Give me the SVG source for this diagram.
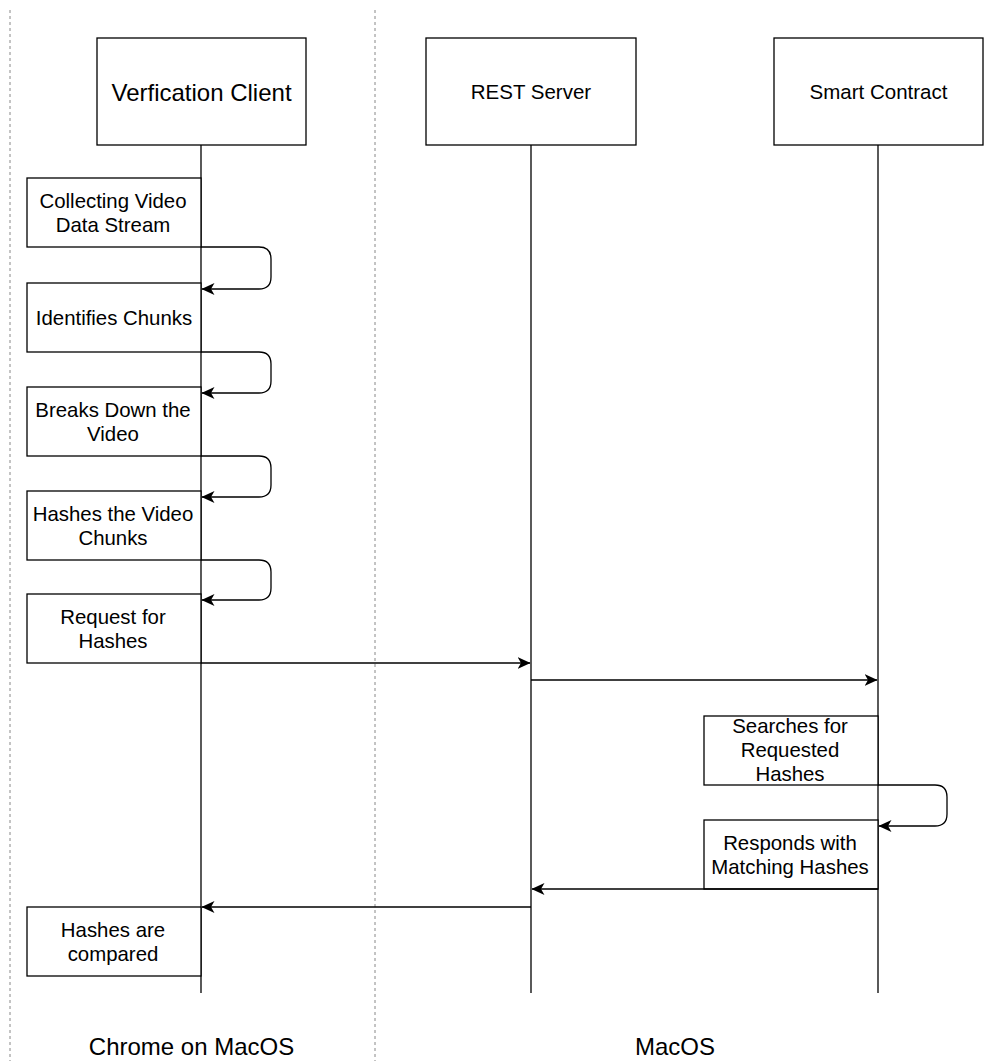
<svg xmlns="http://www.w3.org/2000/svg" width="998" height="1061" viewBox="0 0 998 1061">
  <style>
    .bg { fill: #ffffff; }
    .box { fill: #ffffff; stroke: #000000; stroke-width: 1.3; }
    .life { stroke: #000000; stroke-width: 1.3; fill: none; }
    .msg { stroke: #000000; stroke-width: 1.3; fill: none; marker-end: url(#arrow); }
    .sep { stroke: #888888; stroke-width: 1; stroke-dasharray: 3 3; fill: none; }
    .t { font-family: "Liberation Sans", Arial, Helvetica, sans-serif; fill: #000000; text-anchor: middle; }
    .head { font-size: 24px; }
    .head-s { font-size: 20.5px; }
    .act { font-size: 20.4px; }
    .zone { font-size: 24px; }
  </style>
  <defs>
    <!-- notched block arrowhead shared by all messages -->
    <marker id="arrow" markerUnits="userSpaceOnUse" markerWidth="13" markerHeight="12" viewBox="0 0 13 12" refX="12.5" refY="6" orient="auto">
      <path d="M0,0 L13,6 L0,12 L3.5,6 Z" fill="#000000"/>
    </marker>
  </defs>

  <rect class="bg" x="0" y="0" width="998" height="1061"/>

  <!-- zone separators -->
  <g id="separators">
    <line class="sep" x1="10" y1="10" x2="10" y2="1061"/>
    <line class="sep" x1="375" y1="10" x2="375" y2="1061"/>
  </g>

  <!-- lifelines -->
  <g id="lifelines">
    <line class="life" x1="201" y1="145" x2="201" y2="993"/>
    <line class="life" x1="531" y1="145" x2="531" y2="993"/>
    <line class="life" x1="878" y1="145" x2="878" y2="993"/>
  </g>

  <!-- participants -->
  <g id="verification-client">
    <rect class="box" x="97" y="38" width="209" height="107"/>
    <text class="t head" x="201.5" y="101">Verfication Client</text>
  </g>
  <g id="rest-server">
    <rect class="box" x="426" y="38" width="210" height="107"/>
    <text class="t head-s" x="531" y="99">REST Server</text>
  </g>
  <g id="smart-contract">
    <rect class="box" x="774" y="38" width="209" height="107"/>
    <text class="t head-s" x="878.5" y="99">Smart Contract</text>
  </g>

  <!-- activations -->
  <g id="collecting">
    <rect class="box" x="27" y="178" width="174" height="69"/>
    <text class="t act" x="113" y="208">Collecting Video</text>
    <text class="t act" x="113" y="232">Data Stream</text>
  </g>
  <g id="identifies">
    <rect class="box" x="27" y="283" width="174" height="69"/>
    <text class="t act" x="114" y="325">Identifies Chunks</text>
  </g>
  <g id="breaks-down">
    <rect class="box" x="27" y="387" width="174" height="69"/>
    <text class="t act" x="113" y="417">Breaks Down the</text>
    <text class="t act" x="113" y="441">Video</text>
  </g>
  <g id="hashes-chunks">
    <rect class="box" x="27" y="491" width="174" height="69"/>
    <text class="t act" x="113" y="521">Hashes the Video</text>
    <text class="t act" x="113" y="545">Chunks</text>
  </g>
  <g id="request">
    <rect class="box" x="27" y="594" width="174" height="69"/>
    <text class="t act" x="113" y="624">Request for</text>
    <text class="t act" x="113" y="648">Hashes</text>
  </g>
  <g id="searches">
    <rect class="box" x="704" y="716" width="174" height="69"/>
    <text class="t act" x="790" y="733">Searches for</text>
    <text class="t act" x="790" y="757">Requested</text>
    <text class="t act" x="790" y="781">Hashes</text>
  </g>
  <g id="responds">
    <rect class="box" x="704" y="820" width="174" height="69"/>
    <text class="t act" x="790" y="850">Responds with</text>
    <text class="t act" x="790" y="874">Matching Hashes</text>
  </g>
  <g id="compared">
    <rect class="box" x="27" y="907" width="174" height="69"/>
    <text class="t act" x="113" y="937">Hashes are</text>
    <text class="t act" x="113" y="961">compared</text>
  </g>

  <!-- messages -->
  <g id="connectors">
    <path class="msg" d="M201,247 H259 Q271,247 271,259 V277 Q271,289 259,289 H202"/>
    <path class="msg" d="M201,352 H259 Q271,352 271,364 V381 Q271,393 259,393 H202"/>
    <path class="msg" d="M201,456 H259 Q271,456 271,468 V485 Q271,497 259,497 H202"/>
    <path class="msg" d="M201,560 H259 Q271,560 271,572 V588 Q271,600 259,600 H202"/>
    <path class="msg" d="M201,663 H530"/>
    <path class="msg" d="M531,680 H877"/>
    <path class="msg" d="M878,785 H935 Q947,785 947,797 V814 Q947,826 935,826 H879"/>
    <path class="msg" d="M878,889 H532"/>
    <path class="msg" d="M531,907 H202"/>
  </g>

  <!-- zone labels -->
  <g id="zone-labels">
    <text class="t zone" x="191.5" y="1055">Chrome on MacOS</text>
    <text class="t zone" x="675" y="1055">MacOS</text>
  </g>
</svg>
